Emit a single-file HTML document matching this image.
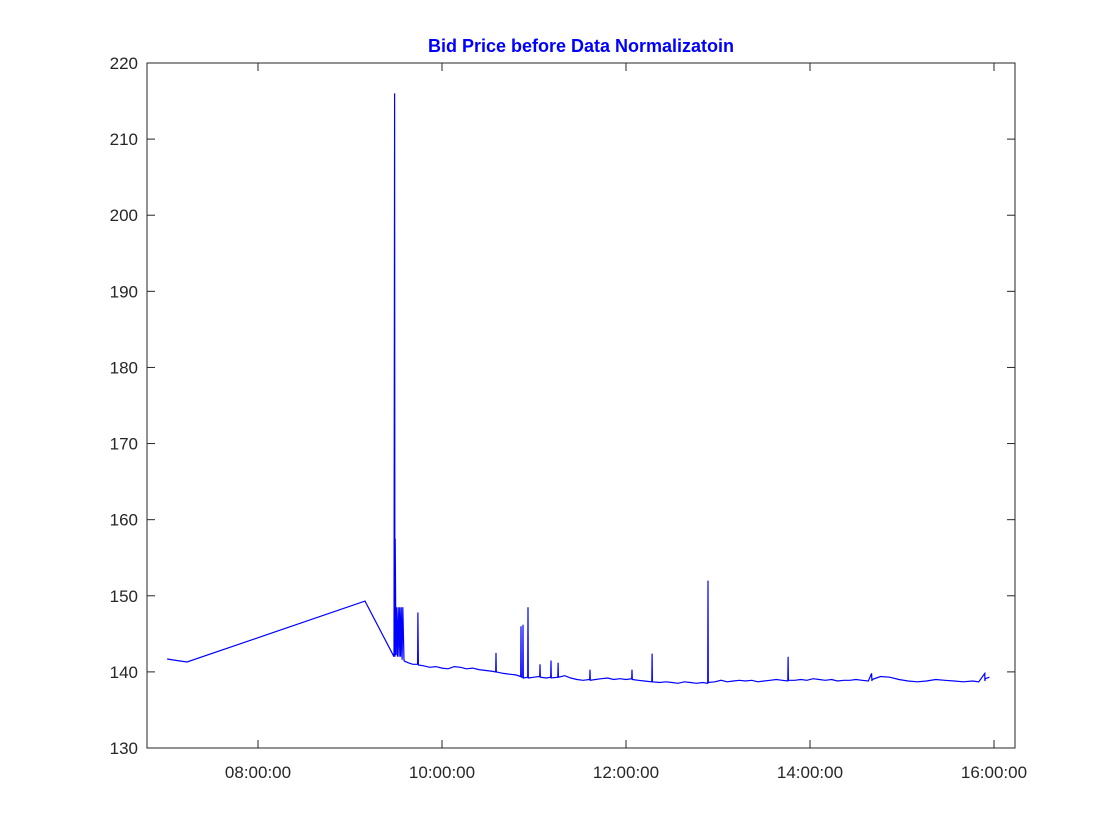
<!DOCTYPE html>
<html><head><meta charset="utf-8"><style>
body{margin:0;background:#fff;}
svg{display:block;font-family:"Liberation Sans",sans-serif;}
</style></head><body>
<svg id="chart" width="1120" height="840"></svg>
<script>
const yTicks=[130,140,150,160,170,180,190,200,210,220];
const xTickMinutes=[480,600,720,840,960];
const xTickLabels=["08:00:00","10:00:00","12:00:00","14:00:00","16:00:00"];
const times=[420.7,427,433.7,549.8,568.7,569.1,569.3,569.5,570,570.3,571,571.4,572,572.4,573,573.4,574,574.4,575.2,575.6,578,581,584.1,584.3,584.6,588,592,596,600,604,608,612,616,620,624,628,632,635,635.2,635.4,640,644,648,651.3,651.5,651.7,652.6,652.8,653,655.9,656.1,656.3,660,663.7,663.9,664.1,668,670.9,671.1,671.3,675.5,675.7,675.9,680,684,688,692,696.3,696.5,696.7,700,704,708,712,716,720,723.7,723.9,724.1,728,732,736.8,737,737.2,742,746,750,754,758,762,766,770,773.3,773.5,773.7,778,782,786,790,794,798,802,806,810,814,818,822,825.5,825.7,825.9,830,834,838,842,846,850,854,858,862,866,870,874,878,880.2,880.4,880.6,886,892,898,904,910,916,922,928,934,940,946,950,954,954.1,954.3,957,960];
const values=[141.7,141.5,141.3,149.3,142.0,216,142.0,157.5,142.2,148.5,142,148.5,142,148.5,142,148.5,141.6,148.5,141.5,141.4,141.2,141.0,141.0,147.8,140.9,140.8,140.6,140.7,140.5,140.4,140.7,140.6,140.4,140.5,140.3,140.2,140.1,140.0,142.5,140.0,139.8,139.7,139.6,139.4,146.0,139.3,139.3,146.2,139.2,139.3,148.5,139.2,139.3,139.4,141.0,139.3,139.2,139.3,141.5,139.2,139.3,141.2,139.3,139.5,139.2,139.0,138.9,139.0,140.3,138.9,139.0,139.1,139.2,139.0,139.1,139.0,139.1,140.3,139.0,138.9,138.8,138.7,142.4,138.7,138.6,138.7,138.6,138.5,138.7,138.6,138.5,138.6,138.5,152.0,138.6,138.7,138.9,138.7,138.8,138.9,138.8,138.9,138.7,138.8,138.9,139.0,138.9,138.8,142.0,138.9,138.9,139.0,138.9,139.1,139.0,138.9,139.0,138.8,138.9,138.9,139.0,138.9,138.8,139.8,138.8,139.0,139.4,139.3,139.0,138.8,138.7,138.8,139.0,138.9,138.8,138.7,138.8,138.7,139.8,138.8,139.1,139.3];
const NS="http://www.w3.org/2000/svg";
const svg=document.getElementById('chart');
const L=147,R=1015,T=63,B=748,xMin=407.6,xMax=973.7,yMin=130,yMax=220;
const xs=t=>L+(t-xMin)/(xMax-xMin)*(R-L);
const ys=v=>B-(v-yMin)/(yMax-yMin)*(B-T);
function mk(tag,attrs){const e=document.createElementNS(NS,tag);for(const k in attrs)e.setAttribute(k,attrs[k]);svg.appendChild(e);return e;}
const box=mk('rect',{x:L,y:T,width:R-L,height:B-T,fill:'#fff',stroke:'#262626','stroke-width':1});


yTicks.forEach(v=>{
 const y=ys(v);
 const t1=mk('line',{x1:L,x2:L+8,y1:y,y2:y,stroke:'#262626'});
 
 
 const t2=mk('line',{x1:R-8,x2:R,y1:y,y2:y,stroke:'#262626'});
 
 
 const tx=mk('text',{x:L-9,y:y+6,'text-anchor':'end','font-size':17,fill:'#262626'});
 tx.textContent=v;
 
 
});
xTickMinutes.forEach((m,i)=>{
 const x=xs(m);
 const t1=mk('line',{x1:x,x2:x,y1:B,y2:B-8,stroke:'#262626'});
 
 
 const t2=mk('line',{x1:x,x2:x,y1:T,y2:T+8,stroke:'#262626'});
 
 
 const tx=mk('text',{x:x,y:B+30,'text-anchor':'middle','font-size':17,fill:'#262626'});
 tx.textContent=xTickLabels[i];
 
 
});
const pts=times.map((t,i)=>xs(t).toFixed(1)+','+ys(values[i]).toFixed(1)).join(' ');
const line=mk('polyline',{points:pts,fill:'none',stroke:'#0000ff','stroke-width':1.2});


const title=mk('text',{x:(L+R)/2,y:52,'text-anchor':'middle','font-size':18,'font-weight':'bold',fill:'#0000ff'});
title.textContent='Bid Price before Data Normalizatoin';


</script>
</body></html>
